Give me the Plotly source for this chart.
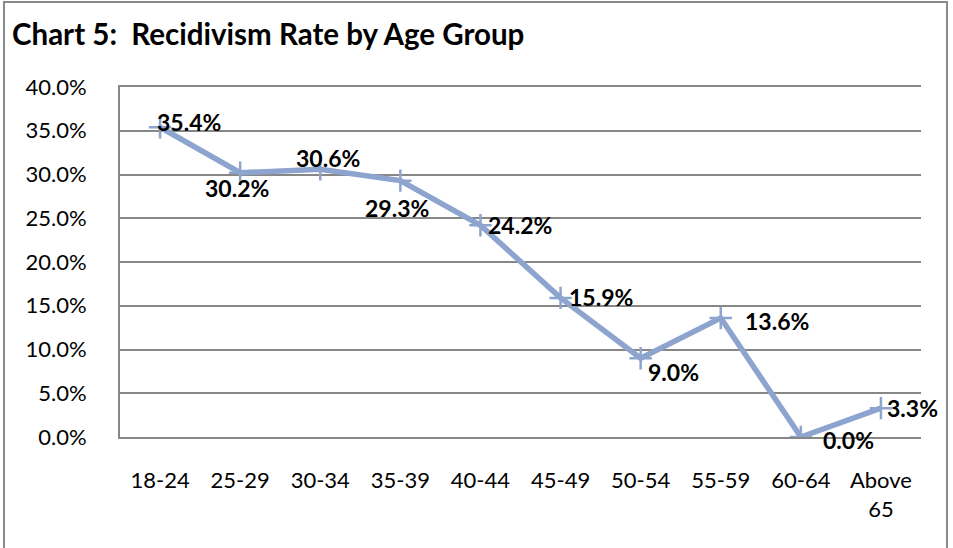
import plotly.graph_objects as go

categories = ["18-24", "25-29", "30-34", "35-39", "40-44", "45-49", "50-54", "55-59", "60-64", "Above<br>65"]
rates = [35.4, 30.2, 30.6, 29.3, 24.2, 15.9, 9.0, 13.6, 0.0, 3.3]
label_text = ["35.4%", "30.2%", "30.6%", "29.3%", "24.2%", "15.9%", "9.0%", "13.6%", "0.0%", "3.3%"]
y_ticks = [0, 5, 10, 15, 20, 25, 30, 35, 40]
y_tick_text = ["0.0%", "5.0%", "10.0%", "15.0%", "20.0%", "25.0%", "30.0%", "35.0%", "40.0%"]
# label offsets (pixels) relative to each point
label_dx = [29, -3, 8, -3, 40, 40, 33, 56, 48, 32]
label_dy = [5, -15, 11, -27, 0, 1, -14, -3, -3, 0]

FONT = "Lato"
LINE_COLOR = "#8DA4CF"
GRID = "#878787"

fig = go.Figure()
fig.add_trace(go.Scatter(
    x=categories, y=rates, mode="lines+markers",
    line=dict(color=LINE_COLOR, width=5.5),
    marker=dict(symbol="cross-thin", size=16, line=dict(color=LINE_COLOR, width=2.5), color=LINE_COLOR),
    hoverinfo="skip", showlegend=False,
))

for c, v, t, dx, dy in zip(categories, rates, label_text, label_dx, label_dy):
    fig.add_annotation(x=c, y=v, text=t, showarrow=False, xshift=dx, yshift=dy,
                       font=dict(family=FONT, size=23, color="black", weight="bold"))

W, H = 953, 548
ml, mr, mt, mb = 120, 32, 87, 111
pw, ph = W - ml - mr, H - mt - mb

# outer chart border (bottom edge lies below the visible area)
fig.add_shape(type="rect", xref="paper", yref="paper",
              x0=(4 - ml) / pw, x1=(947 - ml) / pw,
              y0=-(560 - mt - ph) / ph, y1=(mt - 2) / ph + 1,
              line=dict(color="#8A8A8A", width=2), fillcolor="rgba(0,0,0,0)", layer="below")

fig.update_layout(
    width=W, height=H,
    margin=dict(l=ml, r=mr, t=mt, b=mb),
    paper_bgcolor="white", plot_bgcolor="white",
    title=dict(text="<b>Chart 5:  Recidivism Rate by Age Group</b>", x=12 / W, xanchor="left",
               y=1 - 35 / H, yanchor="middle", font=dict(family=FONT, size=29.5, color="black")),
    font=dict(family=FONT, color="black"),
    xaxis=dict(type="category", range=[-0.5, 9.5], showgrid=False, showline=True, mirror=True,
               linecolor=GRID, linewidth=2, ticks="",
               tickfont=dict(size=22, color="black"), zeroline=False, ticklabelstandoff=23),
    yaxis=dict(range=[0, 40], tickvals=y_ticks, ticktext=y_tick_text, showgrid=True,
               gridcolor=GRID, gridwidth=2, showline=True, linecolor=GRID, linewidth=2,
               zeroline=False, ticks="", tickfont=dict(size=22, color="black"), ticklabelstandoff=27),
)

fig.write_html("out.html", config={"displayModeBar": False},
               post_script="document.body.style.margin='0px';")
